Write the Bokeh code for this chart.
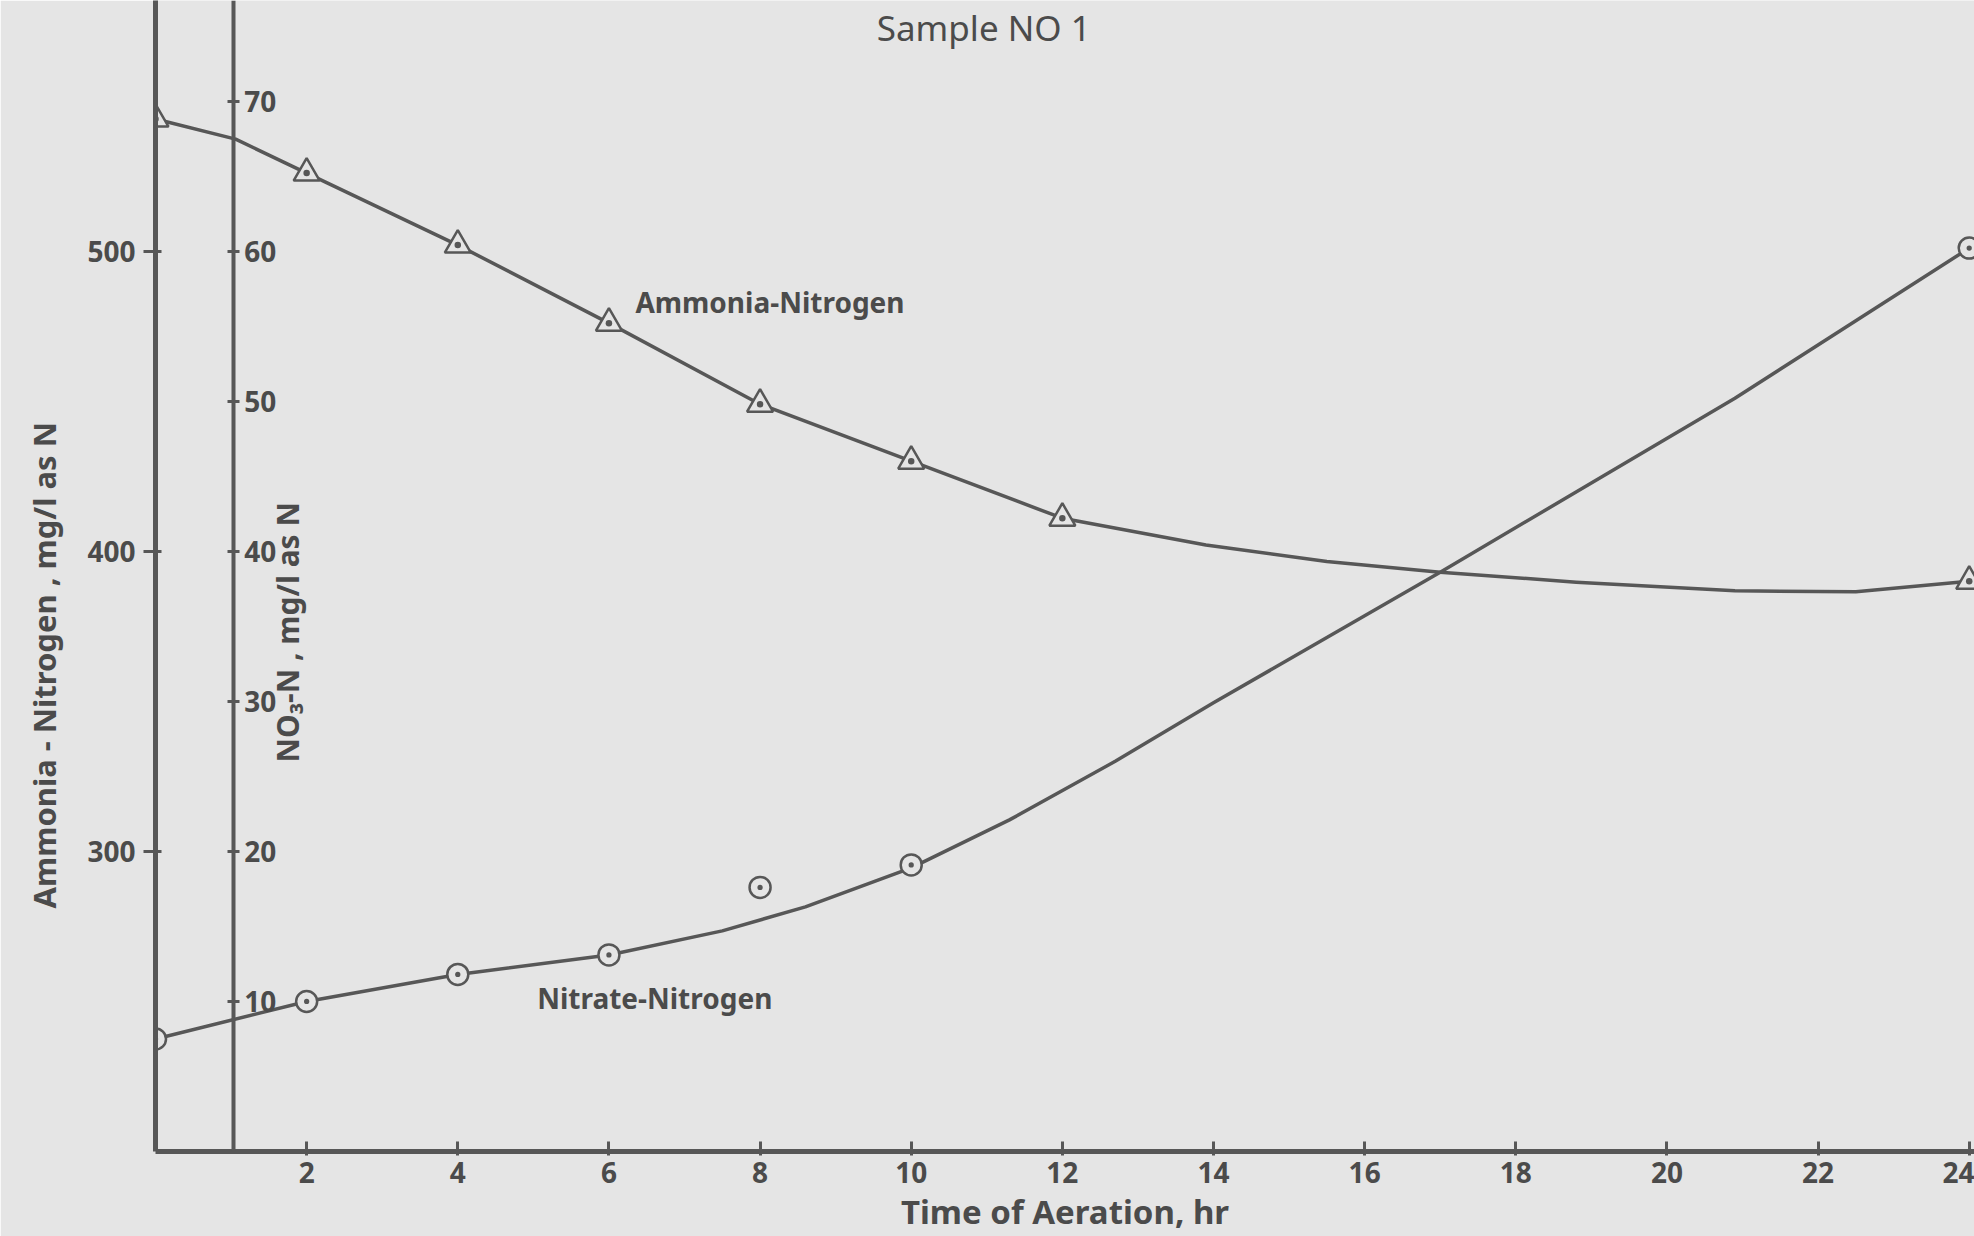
import math
from bokeh.plotting import figure
from bokeh.models import Range1d, LinearAxis, FixedTicker, Label, Title
from bokeh.embed import file_html
from bokeh.resources import INLINE

# ---- data ----
x_ticks = [2, 4, 6, 8, 10, 12, 14, 16, 18, 20, 22, 24]
amm_ticks = [300, 400, 500]
no3_ticks = [10, 20, 30, 40, 50, 60, 70]

ammonia_hr = [0, 2, 4, 6, 8, 10, 12, 24]
ammonia_mg = [544, 526, 502, 476, 449, 430, 411, 390]
ammonia_curve_hr = [0, 1.06, 2, 4, 6, 8, 10, 12, 13.9, 15.5, 17.0, 18.8, 20.9, 22.5, 24]
ammonia_curve_mg = [544, 537.3, 526, 502, 476, 449, 430, 411, 402.1, 396.6, 393.0, 389.7, 386.8, 386.5, 390]

nitrate_hr = [0, 2, 4, 6, 8, 10, 24]
nitrate_mg = [7.5, 10.0, 11.8, 13.1, 17.6, 19.1, 60.2]
nitrate_curve_hr = [0, 2, 4, 6, 7.5, 8.6, 10, 11.3, 12.7, 14.0, 17.0, 20.9, 24]
nitrate_curve_mg = [7.5, 10.0, 11.8, 13.1, 14.7, 16.3, 18.9, 22.1, 26.0, 29.9, 38.6, 50.2, 60.2]

title_text = "Sample NO 1"
x_title = "Time of Aeration, hr"
amm_title = "Ammonia - Nitrogen , mg/l as N"
no3_title = "NO\u2083-N , mg/l as N"

# ---- style ----
BG = "#e5e5e5"
INK = "#4b4b4b"
LINE = "#575757"
FONT = "Noto Sans"
Y_MAX = 76.7

p = figure(width=1974, height=1236,
           x_range=Range1d(0, 24.07), y_range=Range1d(0, Y_MAX),
           x_axis_location=None, y_axis_location=None,
           toolbar_location=None, output_backend="svg",
           min_border_left=155, min_border_right=0, min_border_top=0, min_border_bottom=80,
           background_fill_color=BG, border_fill_color=BG, outline_line_color=None)
for g in p.grid:
    g.visible = False

p.extra_y_ranges = {"amm": Range1d(200, 200 + 5 * Y_MAX)}


def style_axis(ax, tick_in, tick_out, standoff):
    ax.axis_line_color = LINE
    ax.axis_line_width = 5
    ax.major_tick_line_color = LINE
    ax.major_tick_line_width = 3
    ax.major_tick_in = tick_in
    ax.major_tick_out = tick_out
    ax.minor_tick_line_color = None
    ax.major_label_text_font = FONT
    ax.major_label_text_font_size = "28px"
    ax.major_label_text_font_style = "bold"
    ax.major_label_text_color = INK
    ax.major_label_standoff = standoff
    ax.axis_label_text_font = FONT
    ax.axis_label_text_font_size = "33px"
    ax.axis_label_text_font_style = "bold"
    ax.axis_label_text_color = INK


xax = LinearAxis(ticker=FixedTicker(ticks=x_ticks), axis_label=x_title)
style_axis(xax, 10, 4, 6)
xax.axis_label_standoff = 3
p.add_layout(xax, "below")

amm_ax = LinearAxis(y_range_name="amm", ticker=FixedTicker(ticks=amm_ticks))
style_axis(amm_ax, 6, 12, 8)
p.add_layout(amm_ax, "left")

# left-side title used as the ammonia axis title
amm_t = Title(text=amm_title, align="left", offset=243, standoff=40,
              text_font=FONT, text_font_size="31px", text_font_style="bold",
              text_color=INK)
p.add_layout(amm_t, "left")

no3_ax = LinearAxis(ticker=FixedTicker(ticks=no3_ticks), fixed_location=1.03)
style_axis(no3_ax, 6, 6, 5)
no3_ax.axis_line_width = 4
p.add_layout(no3_ax, "right")

# curves
p.line(ammonia_curve_hr, ammonia_curve_mg, y_range_name="amm", line_color=LINE,
       line_width=3.5, line_join="round")
p.line(nitrate_curve_hr, nitrate_curve_mg, line_color=LINE, line_width=3.5, line_join="round")

# markers
p.scatter(ammonia_hr, ammonia_mg, y_range_name="amm", marker="triangle_dot", size=26,
          fill_color=BG, line_color=LINE, line_width=2.5)
p.scatter(nitrate_hr, nitrate_mg, marker="circle_dot", size=21,
          fill_color=BG, line_color=LINE, line_width=2.5)

# texts
p.add_layout(Label(x=10.96, y=74.9, text=title_text, text_align="center",
                   text_baseline="middle", text_font=FONT, text_font_size="35px",
                   text_color=INK))
p.add_layout(Label(x=6.35, y=56.6, text="Ammonia-Nitrogen", text_align="left",
                   text_baseline="middle", text_font=FONT, text_font_size="28px",
                   text_font_style="bold", text_color=INK))
p.add_layout(Label(x=5.05, y=10.2, text="Nitrate-Nitrogen", text_align="left",
                   text_baseline="middle", text_font=FONT, text_font_size="28px",
                   text_font_style="bold", text_color=INK))
p.add_layout(Label(x=1.75, y=34.6, text=no3_title, angle=math.pi / 2, text_align="center",
                   text_baseline="middle", text_font=FONT, text_font_size="30px",
                   text_font_style="bold", text_color=INK))

open("out.html", "w").write(file_html(p, INLINE))
